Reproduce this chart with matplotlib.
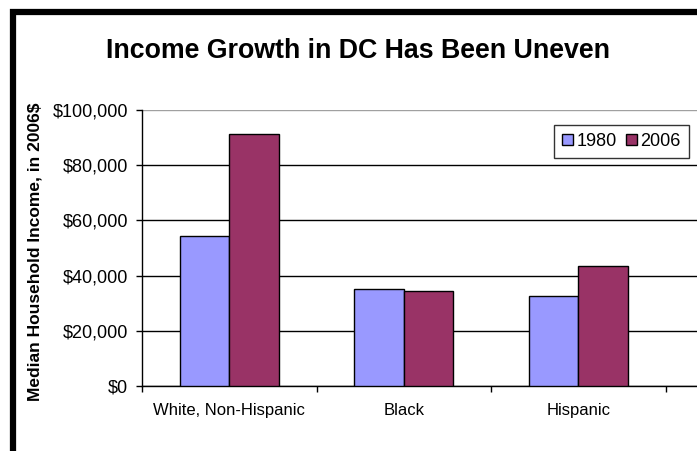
import numpy as np
import matplotlib
matplotlib.use("Agg")
import matplotlib.pyplot as plt
from matplotlib.patches import Rectangle
from matplotlib.ticker import FuncFormatter

# data
groups = ["White, Non-Hispanic", "Black", "Hispanic"]
income_1980 = [54300, 35100, 32600]
income_2006 = [91300, 34400, 43500]
yticks = [0, 20000, 40000, 60000, 80000, 100000]

plt.rcParams['font.family'] = ['Liberation Sans', 'DejaVu Sans']

W, H = 697, 451
fig = plt.figure(figsize=(W / 100, H / 100), dpi=100)

# plot area runs off the right edge like the original crop
left, right = 142 / W, 1.0
bottom, top = 1 - 386 / H, 1 - 110 / H
ax = fig.add_axes([left, bottom, right - left, top - bottom])

x = np.arange(len(groups))
bw = 0.285
ax.bar(x - bw / 2, income_1980, bw, color="#9999FF", edgecolor="black", lw=1, label="1980", zorder=3)
ax.bar(x + bw / 2, income_2006, bw, color="#993366", edgecolor="black", lw=1, label="2006", zorder=3)

ax.set_ylim(0, 100000)
ax.set_xlim(-0.5, -0.5 + (W - 142) / 174.5)
ax.set_yticks(yticks)
ax.yaxis.set_major_formatter(FuncFormatter(lambda v, p: "${:,.0f}".format(v)))
ax.tick_params(axis="y", direction="out", length=4, width=1, pad=6, labelsize=13)

ax.set_xticks(x)
ax.set_xticklabels(groups, fontsize=12)
ax.tick_params(axis="x", which="major", length=0, pad=12)
ax.set_xticks(np.arange(-0.5, 3.0, 1.0), minor=True)
ax.tick_params(axis="x", which="minor", direction="out", length=4, width=1)

ax.yaxis.grid(True, color="black", lw=1)
ax.get_ygridlines()[-1].set_color("#a0a0a0")
ax.set_axisbelow(True)
for s in ["top", "right"]:
    ax.spines[s].set_visible(False)
ax.spines["left"].set_linewidth(1)
ax.spines["bottom"].set_linewidth(1)

ax.set_ylabel("Median Household Income, in 2006$", fontsize=12.5, fontweight="bold")
ax.yaxis.set_label_coords(-(142 - 43) / (W - 142), (386 - 252) / 276)

fig.text(358 / W, 1 - 51 / H, "Income Growth in DC Has Been Uneven",
         ha="center", va="center", fontsize=19.3, fontweight="bold")

leg = ax.legend(loc="upper left", bbox_to_anchor=(554 / W, 1 - 125 / H),
                bbox_transform=fig.transFigure, ncol=2, fontsize=13,
                frameon=True, fancybox=False, handlelength=0.6, handleheight=0.6,
                handletextpad=0.2, columnspacing=0.5, borderpad=0.45,
                borderaxespad=0)
leg.get_frame().set_edgecolor("black")
leg.get_frame().set_linewidth(1)

# thick black frame at the top and left of the crop
fig.add_artist(Rectangle((13 / W, -0.2), 2.0, 1.2 - 12 / H, transform=fig.transFigure,
                         fill=False, edgecolor="black", lw=4.5))

fig.savefig("out.png", dpi=100)
